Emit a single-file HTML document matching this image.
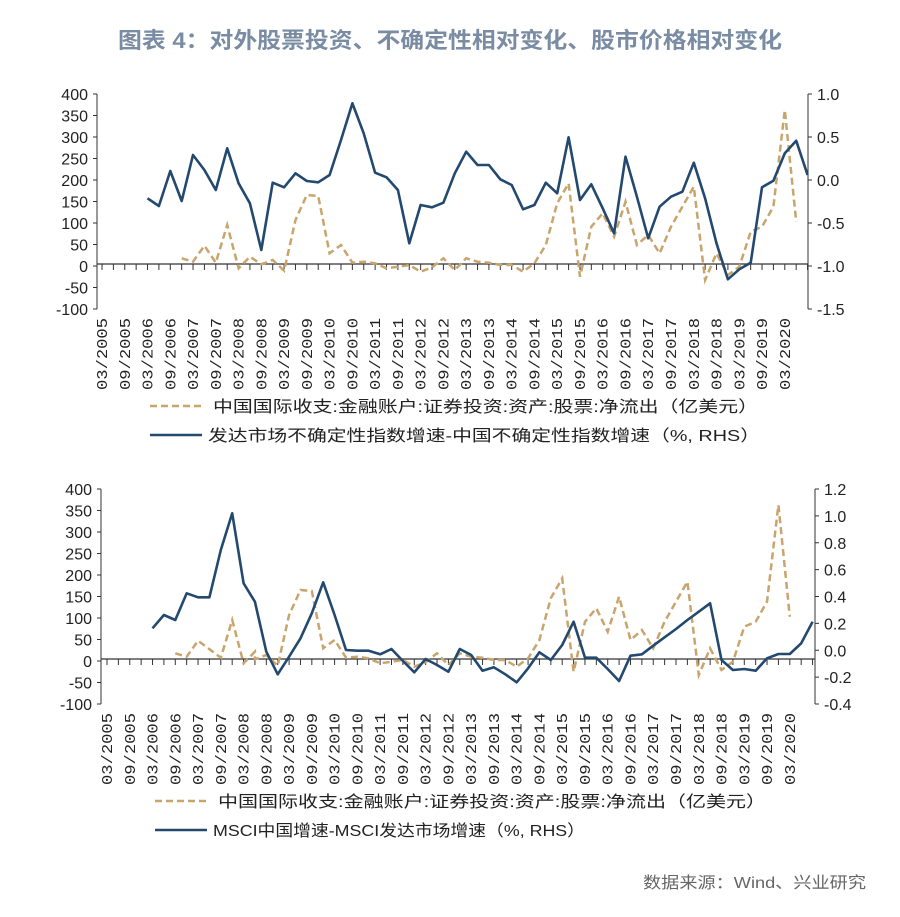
<!DOCTYPE html>
<html><head><meta charset="utf-8">
<style>
body{margin:0;background:#fff;}
svg{display:block;font-family:"Liberation Sans","Noto Sans CJK SC",sans-serif;}
</style></head><body>
<svg id="s" width="900" height="917" xmlns="http://www.w3.org/2000/svg">
<text x="118" y="48" textLength="664" lengthAdjust="spacingAndGlyphs" font-size="22" font-weight="bold" fill="#7a8ca3">图表 4：对外股票投资、不确定性相对变化、股市价格相对变化</text>
<text x="643" y="888" textLength="223" lengthAdjust="spacingAndGlyphs" font-size="16" fill="#666">数据来源：Wind、兴业研究</text>
</svg>
<script>
var NS="http://www.w3.org/2000/svg",S=document.getElementById('s');
function el(t,a,txt){var e=document.createElementNS(NS,t);for(var k in a)e.setAttribute(k,a[k]);if(txt!=null)e.textContent=txt;S.appendChild(e);return e;}
var gold=[[312,535],[332,545],[352,497],[372,548],[392,435],[412,565],[432,530],[448,553],[468,540],[488,572],[507,420],[527,345],[547,348],[567,520],[585,495],[604,548],[625,545],[645,550],[665,565],[685,560],[704,555],[724,575],[743,562],[764,535],[783,570],[800,535],[820,545],[840,548],[860,555],[880,555],[898,575],[918,550],[936,495],[955,370],[975,310],[993,590],[1013,440],[1035,400],[1055,470],[1073,365],[1092,495],[1110,465],[1130,520],[1150,440],[1170,380],[1190,320],[1210,600],[1228,520],[1246,585],[1266,560],[1286,455],[1306,440],[1325,380],[1345,90],[1365,425]];
var b1=[[258,355],[275,378],[292,273],[310,363],[332,225],[352,270],[372,330],[392,205],[412,310],[432,370],[448,510],[468,308],[488,322],[507,280],[527,303],[547,307],[567,285],[585,180],[604,70],[625,160],[645,278],[665,292],[685,330],[704,490],[724,375],[743,382],[764,368],[783,280],[800,215],[820,255],[840,255],[860,298],[880,315],[898,388],[918,375],[936,308],[955,340],[975,172],[993,360],[1013,313],[1035,385],[1055,460],[1073,230],[1092,350],[1110,475],[1130,380],[1150,350],[1170,335],[1190,248],[1210,355],[1228,490],[1246,598],[1266,568],[1286,548],[1306,322],[1325,302],[1345,220],[1365,182],[1385,285]];
var b2=[[262,460],[280,420],[298,435],[318,355],[338,367],[356,367],[376,225],[398,115],[418,325],[438,380],[458,530],[476,598],[496,545],[516,490],[536,415],[556,322],[576,420],[596,525],[616,527],[634,527],[654,538],[670,522],[692,558],[712,592],[734,552],[752,570],[772,590],[790,522],[808,540],[828,587],[848,577],[870,598],[890,622],[910,580],[930,532],[948,555],[966,510],[986,440],[1004,548],[1024,548],[1044,582],[1064,618],[1084,542],[1102,538],[1120,512],[1140,487],[1160,462],[1180,435],[1200,410],[1220,385],[1240,555],[1260,585],[1280,582],[1300,587],[1320,550],[1340,537],[1360,537],[1380,505],[1398,440]];
function chart(o){
 var top=o.oy+14, bot=o.oy+229, zero=o.oy+184, step=11.38;
 var X=function(i){return o.x0+i*step;};
 var Y=function(zy){return o.oy+zy/3;};
 el('line',{x1:o.L,y1:top,x2:o.L,y2:bot,stroke:'#333','stroke-width':1});
 el('line',{x1:o.R,y1:top,x2:o.R,y2:bot,stroke:'#333','stroke-width':1});
 for(var k=0;k<=10;k++){var y=top+k*(bot-top)/10;
  el('line',{x1:o.L-4,y1:y,x2:o.L,y2:y,stroke:'#333'});
  el('text',{x:o.L-9,y:y+6,'text-anchor':'end','font-size':16,fill:'#222'}, String(400-k*50));
 }
 for(var k=0;k<o.rl.length;k++){var y=top+k*(bot-top)/(o.rl.length-1);
  el('line',{x1:o.R,y1:y,x2:o.R+4,y2:y,stroke:'#333'});
  el('text',{x:o.R+9,y:y+6,'font-size':16,fill:'#222'},o.rl[k]);
 }
 el('line',{x1:o.L,y1:zero,x2:o.R,y2:zero,stroke:'#333','stroke-width':1.3});
 for(var i=0;i<=62;i++){el('line',{x1:X(i),y1:zero,x2:X(i),y2:zero+6,stroke:'#333'});}
 var ly=zero+52+74;
 for(var i=0;i<=30;i++){var yr=2005+Math.floor(i/2),m=i%2?'09':'03',x=X(i*2)+5;
  el('text',{x:x,y:zero+126,transform:'rotate(-90 '+x+' '+(zero+126)+')','font-size':15,fill:'#222','font-family':'Liberation Mono,monospace',textLength:72,lengthAdjust:'spacingAndGlyphs'},m+'/'+yr);}
 var p=gold.map(function(a){return X(Math.round((a[0]-o.zx0)/o.zs)).toFixed(1)+','+Y(a[1]).toFixed(1);}).join(' ');
 el('polyline',{points:p,fill:'none',stroke:'#c9a46c','stroke-width':2.5,'stroke-dasharray':'7,4'});
 p=o.blue.map(function(a){return X(Math.round((a[0]-o.zx0)/o.zs)).toFixed(1)+','+Y(a[1]).toFixed(1);}).join(' ');
 el('polyline',{points:p,fill:'none',stroke:'#23496f','stroke-width':2.6,'stroke-linejoin':'round'});
 el('line',{x1:o.lx,y1:o.ly1,x2:o.lx+55,y2:o.ly1,stroke:'#c9a46c','stroke-width':2.5,'stroke-dasharray':'7,4'});
 el('text',{x:o.lx+63,y:o.ly1+6,'font-size':16,fill:'#222',textLength:o.w1,lengthAdjust:'spacingAndGlyphs'},'中国国际收支:金融账户:证券投资:资产:股票:净流出（亿美元）');
 el('line',{x1:o.lx,y1:o.ly2,x2:o.lx+52,y2:o.ly2,stroke:'#23496f','stroke-width':2.6});
 el('text',{x:o.lx+58,y:o.ly2+6,'font-size':16,fill:'#222',textLength:o.w2,lengthAdjust:'spacingAndGlyphs'},o.lt);
}
chart({oy:80,L:97,R:808,x0:102,zx0:175,zs:19.58,blue:b1,rl:['1.0','0.5','0.0','-0.5','-1.0','-1.5'],lx:150,ly1:406,ly2:435,lt:'发达市场不确定性指数增速-中国不确定性指数增速（%, RHS）',w1:545,w2:552});
chart({oy:475,L:101,R:815,x0:107,zx0:185,zs:19.67,blue:b2,rl:['1.2','1.0','0.8','0.6','0.4','0.2','0.0','-0.2','-0.4'],lx:155,ly1:801,ly2:830,lt:'MSCI中国增速-MSCI发达市场增速（%, RHS）',w1:548,w2:372});
</script>
</body></html>
